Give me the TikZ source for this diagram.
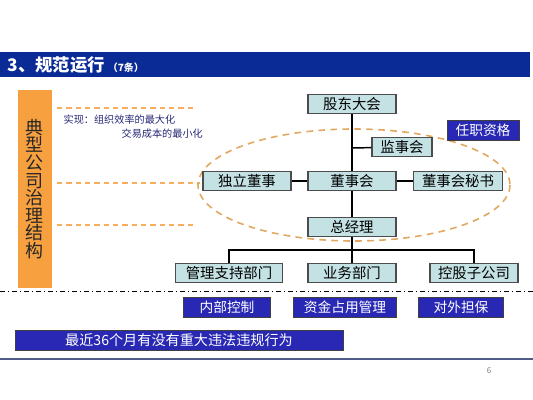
\documentclass[tikz,border=0pt]{standalone}
\usepackage{fontspec}
\setmainfont{Noto Sans CJK SC}
\usepackage{tikz}
\usetikzlibrary{shapes}
\usetikzlibrary{arrows}
\usetikzlibrary{positioning}

\definecolor{navy}{RGB}{10,42,150}
\definecolor{boxblue}{RGB}{40,40,180}
\definecolor{teal}{RGB}{196,226,228}
\definecolor{orangebar}{RGB}{247,160,64}
\definecolor{tan}{RGB}{224,168,96}
\definecolor{textblue}{RGB}{40,40,120}

\begin{document}
\begin{tikzpicture}[x=0.75pt,y=-0.75pt]
\tikzstyle{post} = [rectangle, draw=gray!60!black, thick, fill=teal,
minimum height=14.5pt, inner sep=1pt, font=\fontsize{10.8}{12}\selectfont]
\tikzstyle{fact} = [rectangle, draw=gray!50!black, fill=boxblue, text=white,
minimum height=15pt, inner sep=1pt, font=\fontsize{10.3}{12}\selectfont]
\tikzstyle{tree} = [draw, black, line width=1.1pt]
\tikzstyle{guide} = [draw=orangebar!85!white, line width=1.2pt, dash pattern=on 4pt off 3pt]
\useasboundingbox (0,0) rectangle (533,400);
% title bar
\fill[navy] (0,52) rectangle (530,77);
\node[anchor=west, text=white, font=\fontsize{13}{15}\selectfont\bfseries] (title) at (3,65)
  {3、规范运行\,{\fontsize{7.5}{9}\selectfont（7条）}};
% left bar
\fill[orangebar] (18,90) rectangle (52,288);
\node[text width=16pt, align=center, text=black!85, font=\fontsize{13.5}{13.2}\selectfont] (side) at (35,189)
  {典\\型\\公\\司\\治\\理\\结\\构};
% guide lines
\draw[guide] (57,108) -- (195,108);
\draw[guide] (57,183) -- (200,183);
\draw[guide] (57,225) -- (195,225);
\node[anchor=west, text=textblue, font=\fontsize{7.6}{8}\selectfont] (goal1) at (59,120) {实现：组织效率的最大化};
\node[anchor=west, text=textblue, font=\fontsize{7.6}{8}\selectfont] (goal2) at (117,134) {交易成本的最小化};
% board circle
\draw[draw=tan, line width=1.2pt, dash pattern=on 5pt off 4pt] (354,185) ellipse [x radius=156, y radius=56];
% row 1
\node [post, minimum width=66pt] (meeting) at (352,104) {股东大会};
\node [post, minimum width=45pt] (super) at (402,147) {监事会};
% row 2
\node [post, minimum width=66pt] (indep) at (247,181) {独立董事};
\node [post, minimum width=66pt] (board) at (352,181) {董事会};
\node [post, minimum width=67pt] (secr) at (458,181) {董事会秘书};
% row 3
\node [post, minimum width=66pt] (ceo) at (352,227) {总经理};
% row 4
\node [post, minimum width=80pt] (admin) at (229,273) {管理支持部门};
\node [post, minimum width=66pt] (biz) at (352,273) {业务部门};
\node [post, minimum width=66pt] (subs) at (474,273) {控股子公司};
\coordinate (fork) at (352,250);
\coordinate (tap) at (352,148);
% lines
\draw[tree] (meeting) -- (board);
\draw[tree] (tap) -- (super);
\draw[tree] (indep) -- (board);
\draw[tree] (board) -- (secr);
\draw[tree] (board) -- (ceo);
\draw[tree] (ceo) -- (biz);
\draw[tree] (admin.north) |- (fork) -| (subs.north);
% qualification
\node [fact, minimum width=54pt] (qual) at (483,130) {任职资格};
% dash-dot line
\draw[black, line width=0.6pt, dash pattern=on 4pt off 2pt on 1pt off 2pt] (0,291) -- (533,291);
% bottom boxes
\node [fact, minimum width=65pt] (ctrl) at (227,307) {内部控制};
\node [fact, minimum width=77pt] (funds) at (345,307) {资金占用管理};
\node [fact, minimum width=64pt] (guar) at (461,307) {对外担保};
\node [fact, minimum width=246pt, font=\fontsize{10.6}{12}\selectfont] (legal) at (179,340) {最近36个月有没有重大违法违规行为};
% footer
\draw[gray!60!navy, line width=1.5pt] (0,359) -- (533,359);
\node[text=gray, font=\fontsize{6}{7}\selectfont] (page) at (489,371) {6};
\end{tikzpicture}
\end{document}
